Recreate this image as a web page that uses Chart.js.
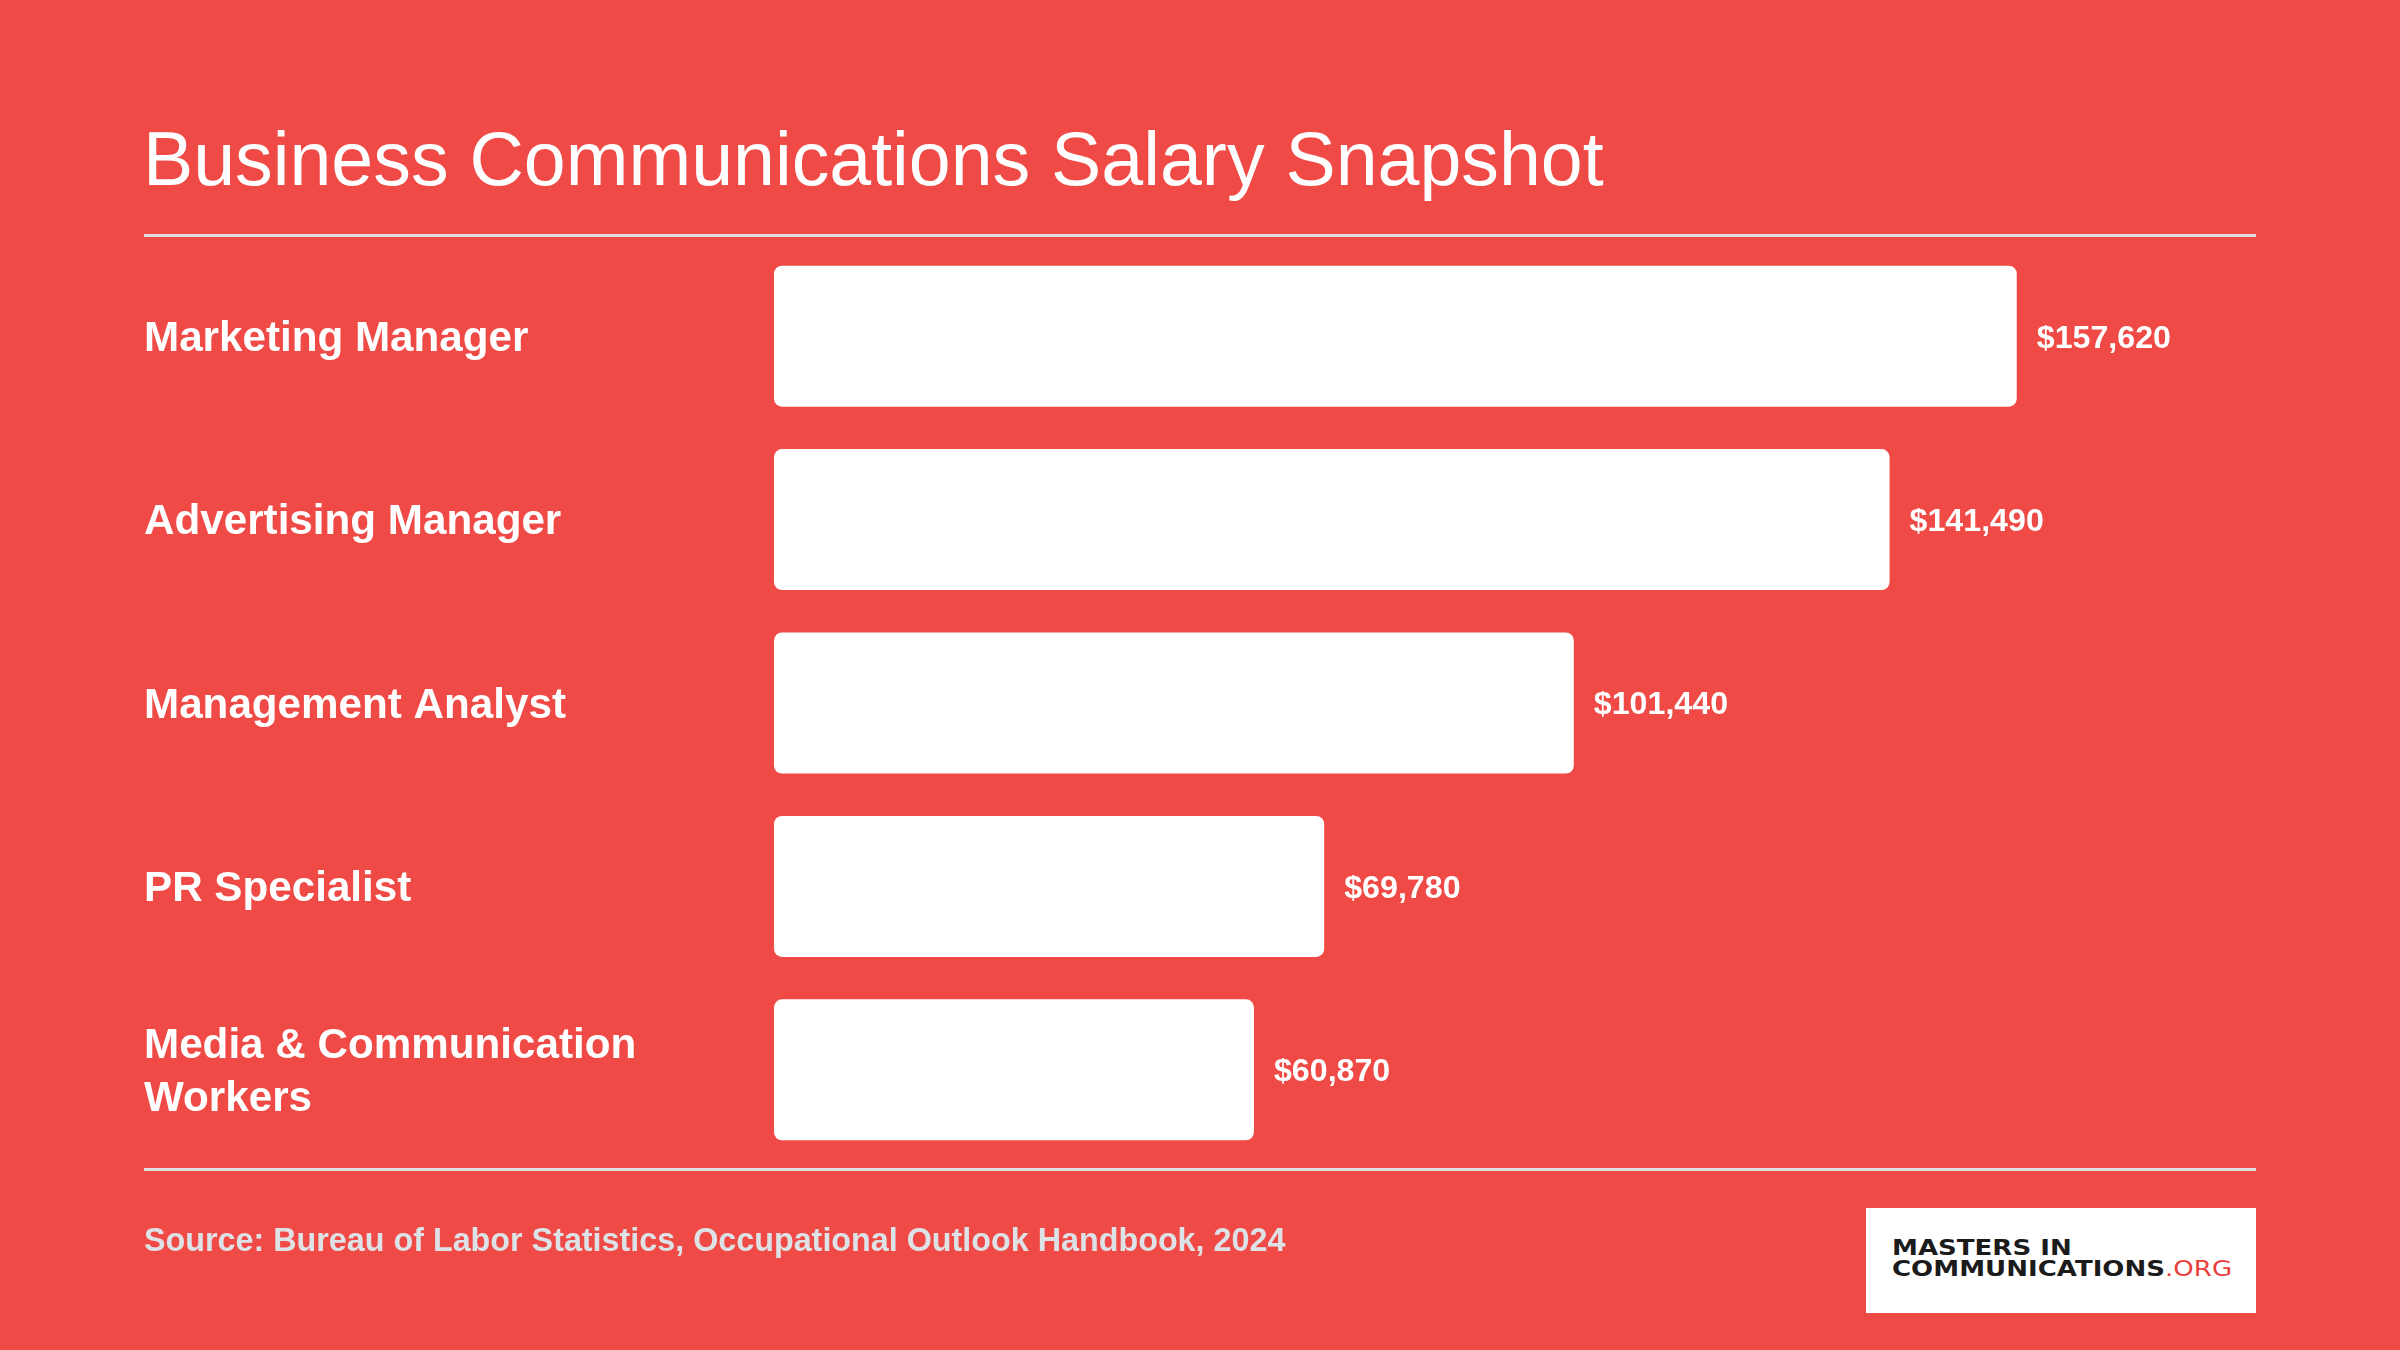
<!DOCTYPE html>
<html>
<head>
<meta charset="utf-8">
<script src="https://cdn.jsdelivr.net/npm/chart.js@4.4.1/dist/chart.umd.min.js"></script>
<style>
  html, body { margin: 0; padding: 0; }
  body { width: 2400px; height: 1350px; background: #F04A47; position: relative; overflow: hidden; font-family: "Liberation Sans", Arial, sans-serif; }
  #chart { position: absolute; left: 0; top: 0; }
  .title { position: absolute; left: 143px; top: 121px; font-size: 75.3px; line-height: 76px; color: #fff; white-space: nowrap; }
  .rule { position: absolute; left: 144px; width: 2112px; height: 3px; background: #dedede; }
  .source { position: absolute; left: 144px; top: 1224px; font-size: 32.3px; line-height: 32px; font-weight: bold; color: #dde2e6; white-space: nowrap; }
  .logo { position: absolute; left: 1866px; top: 1208px; width: 390px; height: 105px; background: #fff; }
  .logo .l { position: absolute; left: 26px; font-family: "DejaVu Sans", sans-serif; font-weight: bold; font-size: 20.5px; line-height: 20px; color: #1b1b1b; white-space: nowrap; transform: scaleX(1.27); transform-origin: left center; letter-spacing: 0px; }
  .logo .org { color: #ea3f3c; font-weight: normal; }
</style>
</head>
<body>
<canvas id="chart" width="2400" height="1350"></canvas>
<div class="title">Business Communications Salary Snapshot</div>
<div class="rule" style="top:234px"></div>
<div class="rule" style="top:1168px"></div>
<div class="source">Source: Bureau of Labor Statistics, Occupational Outlook Handbook, 2024</div>
<div class="logo">
  <div class="l" style="top:30px">MASTERS IN</div>
  <div class="l" style="top:51px">COMMUNICATIONS<span class="org">.ORG</span></div>
</div>
<script>
const categories = [
  'Marketing Manager',
  'Advertising Manager',
  'Management Analyst',
  'PR Specialist',
  ['Media & Communication', 'Workers']
];
const salaries = [157620, 141490, 101440, 69780, 60870];
const valueLabels = ['$157,620', '$141,490', '$101,440', '$69,780', '$60,870'];

const valueLabelPlugin = {
  id: 'valueLabels',
  afterDatasetsDraw(chart) {
    const ctx = chart.ctx;
    const meta = chart.getDatasetMeta(0);
    ctx.save();
    ctx.font = 'bold 32.2px "Liberation Sans", Arial, sans-serif';
    ctx.fillStyle = '#ffffff';
    ctx.textAlign = 'left';
    ctx.textBaseline = 'middle';
    meta.data.forEach((bar, i) => {
      ctx.fillText(valueLabels[i], bar.x + 20, bar.y + 2.5);
    });
    ctx.restore();
  }
};

Chart.defaults.devicePixelRatio = 1;
new Chart(document.getElementById('chart'), {
  type: 'bar',
  data: {
    labels: categories,
    datasets: [{
      data: salaries,
      backgroundColor: '#ffffff',
      borderWidth: 0,
      borderRadius: 8,
      borderSkipped: false,
      categoryPercentage: 1,
      barPercentage: 0.769
    }]
  },
  options: {
    indexAxis: 'y',
    responsive: false,
    animation: false,
    layout: { padding: { left: 144, top: 244.5, bottom: 188.5, right: 206.8 } },
    plugins: { legend: { display: false }, tooltip: { enabled: false } },
    scales: {
      x: { display: false, min: 0, max: 180000 },
      y: {
        grid: { display: false },
        border: { display: false },
        ticks: {
          color: '#ffffff',
          autoSkip: false,
          crossAlign: 'far',
          padding: 0,
          labelOffset: 3,
          font: { family: '"Liberation Sans", Arial, sans-serif', weight: 'bold', size: 42.2, lineHeight: 1.238 }
        },
        afterFit(scale) { scale.width = 630; }
      }
    }
  },
  plugins: [valueLabelPlugin]
});
</script>
</body>
</html>
